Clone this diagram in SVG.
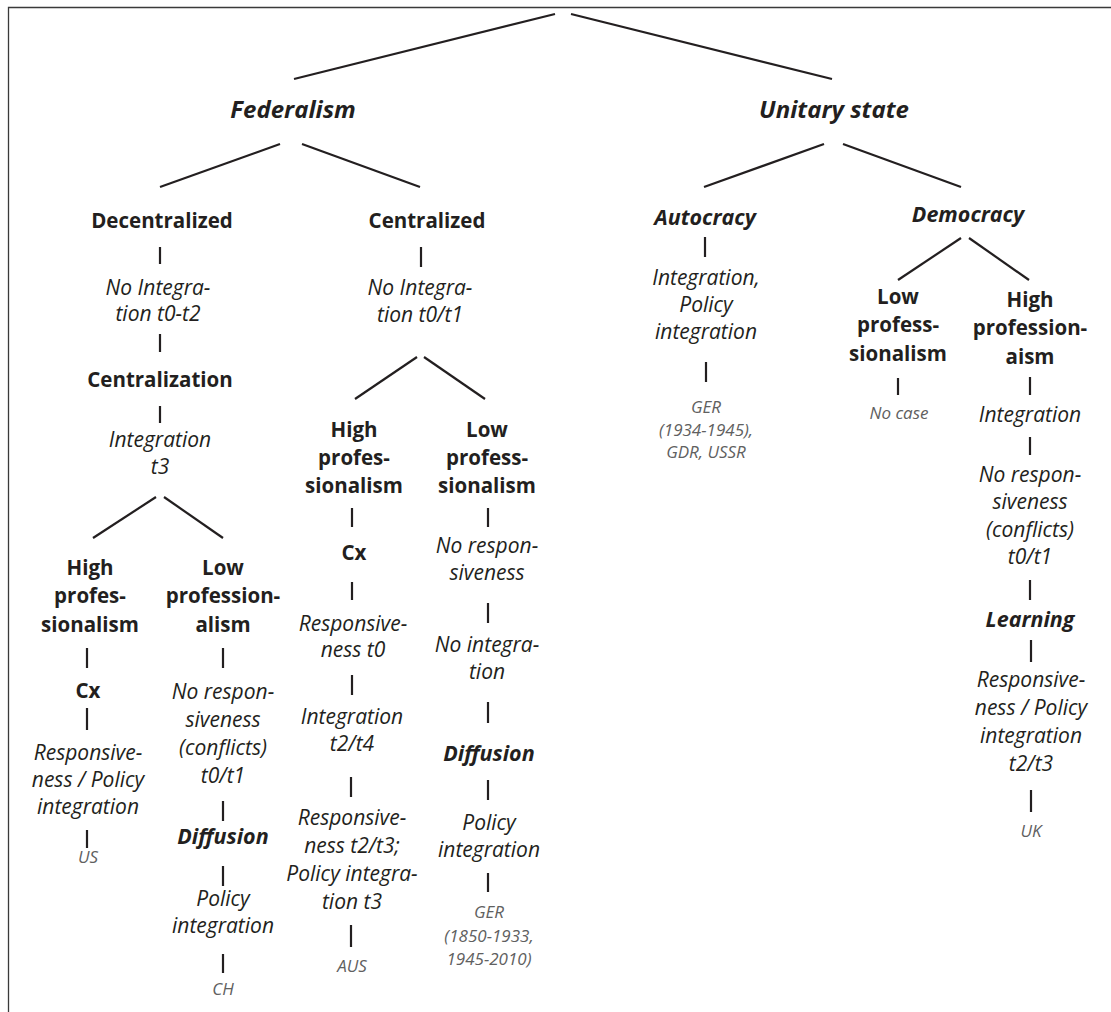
<svg xmlns="http://www.w3.org/2000/svg" width="1111" height="1012" viewBox="0 0 1111 1012">
<style>
text{font-family:"Open Sans","Noto Sans",sans-serif;fill:#231f20;text-anchor:middle}
.h{font-size:24px;font-weight:700;font-style:italic}
.b{font-size:20.5px;font-weight:700}
.bi{font-size:21.5px;font-weight:700;font-style:italic}
.i{font-size:21px;font-style:italic}
.g{font-size:17px;font-style:italic;fill:#606060}
#connectors line{stroke:#231f20;stroke-width:2.2;stroke-linecap:butt}
.frame{stroke:#3a3a3a;stroke-width:1.3;fill:none}
</style>
<rect width="1111" height="1012" fill="#fff"/>
<path class="frame" d="M8.5,1012 V7.5 H1111"/>
<g id="connectors">
<line x1="555" y1="14" x2="294" y2="79"/>
<line x1="571" y1="14" x2="832" y2="79"/>
<line x1="280" y1="144" x2="160" y2="187"/>
<line x1="302" y1="144" x2="420" y2="187"/>
<line x1="824" y1="144" x2="704" y2="187"/>
<line x1="843" y1="144" x2="961" y2="187"/>
<line x1="160" y1="247" x2="160" y2="264"/>
<line x1="160" y1="334" x2="160" y2="352"/>
<line x1="160" y1="406" x2="160" y2="423"/>
<line x1="156" y1="497" x2="93" y2="538"/>
<line x1="164" y1="497" x2="223" y2="538"/>
<line x1="87" y1="648" x2="87" y2="668"/>
<line x1="87" y1="708" x2="87" y2="730"/>
<line x1="87" y1="830" x2="87" y2="848"/>
<line x1="223" y1="648" x2="223" y2="668"/>
<line x1="223" y1="801" x2="223" y2="821"/>
<line x1="223" y1="866" x2="223" y2="886"/>
<line x1="223" y1="954" x2="223" y2="973"/>
<line x1="421" y1="247" x2="421" y2="267"/>
<line x1="417" y1="357" x2="355" y2="399"/>
<line x1="424" y1="357" x2="485" y2="399"/>
<line x1="352" y1="508" x2="352" y2="527"/>
<line x1="352" y1="582" x2="352" y2="600"/>
<line x1="352" y1="675" x2="352" y2="695"/>
<line x1="351" y1="777" x2="351" y2="797"/>
<line x1="351" y1="925" x2="351" y2="947"/>
<line x1="488" y1="508" x2="488" y2="527"/>
<line x1="488" y1="603" x2="488" y2="623"/>
<line x1="488" y1="702" x2="488" y2="723"/>
<line x1="488" y1="780" x2="488" y2="800"/>
<line x1="488" y1="873" x2="488" y2="892"/>
<line x1="705" y1="237" x2="705" y2="257"/>
<line x1="706" y1="362" x2="706" y2="382"/>
<line x1="961" y1="238" x2="898" y2="280"/>
<line x1="969" y1="238" x2="1029" y2="280"/>
<line x1="898" y1="378" x2="898" y2="395"/>
<line x1="1030" y1="377" x2="1030" y2="395"/>
<line x1="1030" y1="437" x2="1030" y2="455"/>
<line x1="1030" y1="580" x2="1030" y2="600"/>
<line x1="1031" y1="640" x2="1031" y2="662"/>
<line x1="1031" y1="790" x2="1031" y2="812"/>
</g>
<g id="federalism"><text class="h" x="293" y="118">Federalism</text></g>
<g id="unitary"><text class="h" x="834" y="118">Unitary state</text></g>
<g id="decentralized"><text class="b" x="162" y="228">Decentralized</text></g>
<g id="dec-nointeg"><text class="i" x="158" y="295">No Integra-</text><text class="i" x="158" y="321">tion t0-t2</text></g>
<g id="centralization"><text class="b" x="160" y="387">Centralization</text></g>
<g id="dec-integ"><text class="i" x="160" y="447">Integration</text><text class="i" x="160" y="474">t3</text></g>
<g id="a-high"><text class="b" x="90" y="575">High</text><text class="b" x="90" y="603">profes-</text><text class="b" x="90" y="632">sionalism</text></g>
<g id="a-cx"><text class="b" x="88" y="698">Cx</text></g>
<g id="a-resp"><text class="i" x="88" y="760">Responsive-</text><text class="i" x="88" y="787">ness / Policy</text><text class="i" x="88" y="814">integration</text></g>
<g id="a-us"><text class="g" x="88" y="863">US</text></g>
<g id="a-low"><text class="b" x="223" y="575">Low</text><text class="b" x="223" y="603">profession-</text><text class="b" x="223" y="632">alism</text></g>
<g id="a-noresp"><text class="i" x="223" y="699">No respon-</text><text class="i" x="223" y="727">siveness</text><text class="i" x="223" y="755">(conflicts)</text><text class="i" x="223" y="783">t0/t1</text></g>
<g id="a-diff"><text class="bi" x="223" y="844">Diffusion</text></g>
<g id="a-pol"><text class="i" x="223" y="906">Policy</text><text class="i" x="223" y="933">integration</text></g>
<g id="a-ch"><text class="g" x="223" y="995">CH</text></g>
<g id="centralized"><text class="b" x="427" y="228">Centralized</text></g>
<g id="cen-nointeg"><text class="i" x="420" y="295">No Integra-</text><text class="i" x="420" y="322">tion t0/t1</text></g>
<g id="b-high"><text class="b" x="354" y="437">High</text><text class="b" x="354" y="465">profes-</text><text class="b" x="354" y="493">sionalism</text></g>
<g id="b-cx"><text class="b" x="354" y="560">Cx</text></g>
<g id="b-resp0"><text class="i" x="353" y="631">Responsive-</text><text class="i" x="353" y="657">ness t0</text></g>
<g id="b-integ"><text class="i" x="352" y="724">Integration</text><text class="i" x="352" y="751">t2/t4</text></g>
<g id="b-resp2"><text class="i" x="352" y="825">Responsive-</text><text class="i" x="352" y="853">ness t2/t3;</text><text class="i" x="352" y="881">Policy integra-</text><text class="i" x="352" y="909">tion t3</text></g>
<g id="b-aus"><text class="g" x="352" y="972">AUS</text></g>
<g id="b-low"><text class="b" x="487" y="437">Low</text><text class="b" x="487" y="465">profess-</text><text class="b" x="487" y="493">sionalism</text></g>
<g id="b-noresp"><text class="i" x="487" y="553">No respon-</text><text class="i" x="487" y="580">siveness</text></g>
<g id="b-nointeg"><text class="i" x="487" y="652">No integra-</text><text class="i" x="487" y="679">tion</text></g>
<g id="b-diff"><text class="bi" x="489" y="761">Diffusion</text></g>
<g id="b-pol"><text class="i" x="489" y="830">Policy</text><text class="i" x="489" y="857">integration</text></g>
<g id="b-ger"><text class="g" x="489" y="918">GER</text><text class="g" x="489" y="942">(1850-1933,</text><text class="g" x="489" y="965">1945-2010)</text></g>
<g id="autocracy"><text class="bi" x="705" y="225">Autocracy</text></g>
<g id="c-integ"><text class="i" x="706" y="285">Integration,</text><text class="i" x="706" y="312">Policy</text><text class="i" x="706" y="339">integration</text></g>
<g id="c-ger"><text class="g" x="706" y="413">GER</text><text class="g" x="706" y="436">(1934-1945),</text><text class="g" x="706" y="458">GDR, USSR</text></g>
<g id="democracy"><text class="bi" x="968" y="222">Democracy</text></g>
<g id="d-low"><text class="b" x="898" y="304">Low</text><text class="b" x="898" y="332">profess-</text><text class="b" x="898" y="361">sionalism</text></g>
<g id="d-nocase"><text class="g" x="899" y="419">No case</text></g>
<g id="d-high"><text class="b" x="1030" y="307">High</text><text class="b" x="1030" y="335">profession-</text><text class="b" x="1030" y="364">aism</text></g>
<g id="d-integ"><text class="i" x="1030" y="422">Integration</text></g>
<g id="d-noresp"><text class="i" x="1030" y="482">No respon-</text><text class="i" x="1030" y="509">siveness</text><text class="i" x="1030" y="537">(conflicts)</text><text class="i" x="1030" y="564">t0/t1</text></g>
<g id="d-learning"><text class="bi" x="1030" y="627">Learning</text></g>
<g id="d-resp"><text class="i" x="1031" y="687">Responsive-</text><text class="i" x="1031" y="715">ness / Policy</text><text class="i" x="1031" y="743">integration</text><text class="i" x="1031" y="771">t2/t3</text></g>
<g id="d-uk"><text class="g" x="1031" y="837">UK</text></g>
</svg>
